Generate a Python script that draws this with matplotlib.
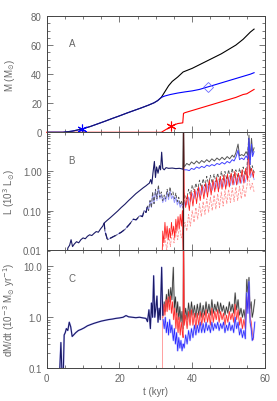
import matplotlib
matplotlib.use('Agg')
import matplotlib.pyplot as plt
from matplotlib.ticker import FixedLocator, FixedFormatter, MultipleLocator, LogLocator, NullFormatter

# ---------------- Panel A: mass ----------------
t_mass_blue = [0, 4.5, 7, 9.6, 12, 14, 16, 18, 20, 22, 24, 26, 28, 29.5, 30.5, 31.5,
               32.5, 34, 36, 38, 40, 42, 44, 46, 48, 50, 52, 54, 56, 57]
m_blue = [0, 0, 0.8, 2.2, 4, 5.8, 7.6, 9.5, 11.3, 13.2, 15, 16.8, 18.7, 20.3, 21.8, 24,
          25, 26, 27, 27.8, 28.5, 29.5, 31, 32.5, 34, 35.5, 37, 38.5, 40, 41]
t_mass_black = [31.5, 32.5, 33.5, 34.5, 36, 37.5, 38, 40, 42, 44, 46, 48, 50, 52, 53,
                54, 55, 56, 57]
m_black = [24, 28, 32, 35, 38, 41.5, 42, 44, 46.5, 49, 51.5, 54, 57, 60, 62, 64, 66.5, 69, 71]
t_mass_red = [0, 31.5, 32.5, 33.5, 34.3, 35, 36, 37.4, 37.6, 38, 40, 42, 44, 46, 48, 50,
              52, 54, 55, 56, 57]
m_red = [0, 0, 1.5, 3, 4.1, 5, 6, 6.5, 13, 13.5, 15, 16.5, 18, 19.5, 21, 22.5, 24, 26,
         26.5, 28, 29.5]

# ---------------- Panel B: luminosity (10^3 Lsun) ----------------
t_L_early = [5.5, 5.8, 6.3, 6.7, 7.1, 7.6, 8.2, 8.8, 9.4, 10.0, 10.6, 11.2, 11.8, 12.4,
             13.0, 13.6, 14.2, 14.8, 15.4, 15.8, 16.5, 17.5, 18.5, 19.5, 20.5, 21.5,
             22.5, 23.5, 24.5, 25.5, 26.5, 27.3, 27.8, 28.2, 28.6, 28.9, 29.2, 29.6,
             29.9, 30.2, 30.6, 31.0, 31.3, 31.6, 31.9, 32.3, 32.8, 33.5, 34.5, 35.5,
             36.5, 37.4]
L_early = [0.005, 0.011, 0.013, 0.018, 0.012, 0.014, 0.016, 0.015, 0.018, 0.02, 0.019,
           0.022, 0.024, 0.023, 0.026, 0.029, 0.028, 0.034, 0.040, 0.048, 0.055, 0.066,
           0.08, 0.097, 0.12, 0.145, 0.18, 0.22, 0.27, 0.32, 0.38, 0.43, 0.47, 0.50,
           0.62, 0.48, 0.9, 1.8, 0.7, 1.3, 0.9, 1.4, 1.1, 3.1, 1.2, 1.1, 1.25, 1.2,
           1.22, 1.18, 1.2, 1.15]
t_L_upper = [37.4, 37.6, 37.8, 38.5, 39.2, 39.8, 40.5, 41.2, 41.9, 42.6, 43.3, 44.0,
             44.7, 45.4, 46.1, 46.8, 47.5, 48.2, 48.9, 49.6, 50.3, 51.0, 51.5, 52.0,
             52.6, 53.0, 53.6, 54.2, 54.8, 55.3, 55.6, 55.9, 56.3, 56.6, 57.0]
L_black_upper = [1.2, 20, 1.3, 1.6, 1.45, 1.75, 1.55, 1.85, 1.6, 1.9, 1.7, 2.0, 1.75,
                 2.1, 1.85, 2.2, 1.95, 2.3, 2.0, 2.4, 2.1, 2.6, 2.3, 3.0, 5.0, 2.5, 2.7,
                 2.5, 3.2, 2.6, 8.5, 2.0, 7.0, 3.0, 4.0]
L_blue_upper = [1.15, 1.1, 1.1, 1.1, 1.05, 1.2, 1.12, 1.3, 1.2, 1.35, 1.25, 1.45, 1.35,
                1.5, 1.4, 1.6, 1.5, 1.7, 1.55, 1.8, 1.65, 2.0, 1.85, 2.3, 3.5, 2.0, 2.2,
                2.0, 2.5, 2.1, 7.0, 1.5, 5.0, 2.4, 3.2]
t_L_lower = [15.8, 16.0, 16.7, 17.2, 18.5, 19.3, 20.5, 21.5, 22.8, 23.8, 24.6, 25.6,
             26.3, 26.8, 27.3, 27.7, 28.0, 28.4, 28.8, 29.1, 29.5, 29.9, 30.3, 30.7,
             31.1, 31.5, 31.9, 32.3, 32.7, 33.1, 33.5, 33.9, 34.3, 34.7, 35.1, 35.5,
             35.9, 36.3, 36.7, 37.1, 37.5, 38.0, 38.5, 39.0, 39.5, 40.0, 40.5, 41.0,
             41.5, 42.0, 42.5, 43.0, 43.5, 44.0, 44.5, 45.0, 45.5, 46.0, 46.5, 47.0,
             47.5, 48.0, 48.5, 49.0, 49.5, 50.0, 50.5, 51.0, 51.5, 52.0, 52.5, 53.0,
             53.5, 54.0, 54.5, 55.0, 55.5, 56.0, 56.5, 57.0]
L_black_lower = [0.048, 0.03, 0.018, 0.019, 0.022, 0.024, 0.028, 0.033, 0.045, 0.06,
                 0.058, 0.075, 0.07, 0.1, 0.09, 0.13, 0.1, 0.18, 0.12, 0.3, 0.15, 0.35,
                 0.2, 0.45, 0.22, 0.3, 0.18, 0.25, 0.2, 0.35, 0.22, 0.4, 0.25, 0.3, 0.2,
                 0.28, 0.17, 0.22, 0.14, 0.18, 0.12, 0.25, 0.2, 0.35, 0.25, 0.45, 0.3,
                 0.5, 0.33, 0.6, 0.38, 0.65, 0.42, 0.75, 0.45, 0.8, 0.5, 0.85, 0.55, 0.9,
                 0.55, 1.0, 0.6, 1.0, 0.62, 1.1, 0.65, 1.2, 0.7, 1.1, 0.7, 1.2, 0.75, 1.3,
                 0.8, 1.1, 7.0, 1.0, 1.4, 0.9]
L_blue_lower = [0.048, 0.03, 0.018, 0.019, 0.022, 0.024, 0.028, 0.033, 0.045, 0.06,
                0.058, 0.075, 0.07, 0.1, 0.09, 0.13, 0.1, 0.18, 0.12, 0.28, 0.15, 0.32,
                0.18, 0.4, 0.2, 0.26, 0.16, 0.22, 0.17, 0.3, 0.19, 0.33, 0.2, 0.24, 0.16,
                0.22, 0.14, 0.18, 0.12, 0.15, 0.11, 0.17, 0.14, 0.22, 0.17, 0.28, 0.2,
                0.32, 0.22, 0.38, 0.25, 0.42, 0.28, 0.48, 0.3, 0.5, 0.33, 0.55, 0.36,
                0.58, 0.37, 0.62, 0.4, 0.65, 0.42, 0.7, 0.44, 0.75, 0.46, 0.72, 0.47,
                0.78, 0.5, 0.82, 0.52, 0.75, 5.0, 0.7, 0.95, 0.62]
t_L_red = [31.7, 31.9, 32.2, 32.5, 32.8, 33.1, 33.4, 33.7, 34.0, 34.3, 34.6, 34.9, 35.2,
           35.5, 35.8, 36.1, 36.4, 36.7, 37.0, 37.3, 37.5, 37.6, 37.8, 38.2, 38.7, 39.2,
           39.7, 40.2, 40.7, 41.2, 41.7, 42.2, 42.7, 43.2, 43.7, 44.2, 44.7, 45.2, 45.7,
           46.2, 46.7, 47.2, 47.7, 48.2, 48.7, 49.2, 49.7, 50.2, 50.7, 51.2, 51.7, 52.2,
           52.7, 53.2, 53.7, 54.2, 54.7, 55.2, 55.5, 55.8, 56.3, 56.8, 57.0]
L_red = [0.005, 0.03, 0.015, 0.05, 0.02, 0.04, 0.018, 0.035, 0.02, 0.05, 0.025, 0.04,
         0.02, 0.06, 0.03, 0.07, 0.035, 0.08, 0.04, 0.1, 0.005, 20, 0.3, 0.12, 0.25, 0.1,
         0.3, 0.13, 0.35, 0.15, 0.4, 0.18, 0.45, 0.2, 0.5, 0.22, 0.6, 0.25, 0.6, 0.3,
         0.7, 0.3, 0.75, 0.35, 0.8, 0.35, 0.85, 0.4, 0.9, 0.45, 1.0, 0.45, 0.9, 0.5, 1.1,
         0.5, 1.2, 0.6, 5.0, 0.8, 1.2, 0.7, 1.0]
t_L_red_lower = [32.0, 32.5, 33.0, 33.5, 34.0, 34.5, 35.0, 35.5, 36.0, 36.5, 37.0, 37.5,
                 38.0, 38.5, 39.0, 39.5, 40.0, 40.5, 41.0, 41.5, 42.0, 42.5, 43.0, 43.5,
                 44.0, 44.5, 45.0, 45.5, 46.0, 46.5, 47.0, 47.5, 48.0, 48.5, 49.0, 49.5,
                 50.0, 50.5, 51.0, 51.5, 52.0, 52.5, 53.0, 53.5, 54.0, 54.5, 55.0, 55.5,
                 56.0, 56.5, 57.0]
L_red_lower = [0.012, 0.02, 0.01, 0.025, 0.012, 0.03, 0.015, 0.035, 0.018, 0.04, 0.02,
               0.03, 0.05, 0.03, 0.08, 0.04, 0.1, 0.05, 0.12, 0.06, 0.15, 0.07, 0.17,
               0.08, 0.2, 0.09, 0.22, 0.1, 0.25, 0.11, 0.27, 0.12, 0.3, 0.13, 0.32, 0.15,
               0.35, 0.16, 0.38, 0.17, 0.4, 0.18, 0.42, 0.2, 0.45, 0.22, 0.4, 0.8, 0.35,
               0.5, 0.3]

# ---------------- Panel C: accretion rate (10^-3 Msun/yr) ----------------
t_dm_early = [3.4, 3.6, 3.9, 4.2, 4.5, 4.8, 5.1, 5.4, 5.8, 6.2, 6.6, 7.0, 7.4, 8.0, 8.7,
              9.5, 10.3, 11.2, 12.1, 13.0, 14.0, 15.0, 16.0, 17.0, 18.0, 19.0, 20.0,
              21.0, 21.8, 22.5, 23.5, 24.5, 25.5, 26.5, 27.3, 27.7, 28.1, 28.5, 28.8,
              29.1, 29.4, 29.7, 30.0, 30.3, 30.6, 30.9, 31.2, 31.6, 31.9]
dm_early = [0.05, 0.1, 0.32, 0.08, 0.05, 0.45, 0.5, 0.6, 0.55, 0.8, 0.65, 0.42, 0.45,
            0.5, 0.55, 0.58, 0.62, 0.68, 0.72, 0.76, 0.8, 0.84, 0.87, 0.9, 0.92, 0.95,
            0.97, 1.0, 1.08, 1.02, 1.0, 0.98, 1.0, 0.97, 0.95, 0.82, 1.4, 0.6, 1.9, 1.0,
            6.5, 1.0, 1.5, 2.6, 0.8, 1.5, 0.9, 9.5, 1.1]
t_dm_late = [32.0, 32.3, 32.6, 32.9, 33.2, 33.5, 33.8, 34.1, 34.4, 34.8, 35.1, 35.4,
             35.7, 36.0, 36.3, 36.6, 36.9, 37.2, 37.5, 37.6, 37.8, 38.2, 38.6, 39.0,
             39.4, 39.8, 40.2, 40.6, 41.0, 41.4, 41.8, 42.2, 42.6, 43.0, 43.4, 43.8,
             44.2, 44.6, 45.0, 45.4, 45.8, 46.2, 46.6, 47.0, 47.4, 47.8, 48.2, 48.6,
             49.0, 49.4, 49.8, 50.2, 50.6, 51.0, 51.4, 51.8, 52.2, 52.6, 53.0, 53.4,
             53.8, 54.2, 54.6, 55.0, 55.3, 55.6, 55.9, 56.2, 56.5, 56.8, 57.2]
dm_black = [1.1, 2.0, 1.3, 2.8, 1.6, 3.5, 2.0, 3.8, 2.2, 9.5, 1.5, 2.5, 1.1, 2.0, 0.9,
            1.6, 0.8, 1.3, 0.6, 50, 0.8, 1.5, 0.9, 1.9, 1.0, 2.0, 1.1, 1.7, 1.0, 1.8,
            1.1, 1.9, 1.0, 1.7, 1.1, 2.0, 1.2, 1.8, 1.1, 2.2, 1.2, 1.8, 1.3, 2.0, 1.2,
            1.9, 1.3, 1.7, 1.1, 1.6, 1.2, 2.0, 1.3, 1.8, 1.2, 3.0, 1.4, 2.2, 1.1, 1.5,
            1.0, 1.4, 0.9, 5.5, 3.0, 6.0, 1.5, 2.0, 1.0, 1.3, 2.2]
dm_blue = [0.9, 0.6, 1.0, 0.5, 0.8, 0.45, 0.9, 0.5, 0.7, 0.35, 0.6, 0.3, 0.5, 0.22,
           0.4, 0.25, 0.35, 0.22, 0.3, 0.28, 0.25, 0.45, 0.3, 0.55, 0.35, 0.6, 0.4, 0.7,
           0.45, 0.7, 0.5, 0.8, 0.5, 0.75, 0.5, 0.8, 0.55, 0.7, 0.5, 0.8, 0.55, 0.75,
           0.6, 0.8, 0.55, 0.75, 0.6, 0.8, 0.5, 0.7, 0.55, 0.8, 0.55, 0.7, 0.5, 1.0,
           0.6, 0.8, 0.45, 0.6, 0.4, 0.55, 0.38, 3.0, 1.2, 5.0, 0.8, 0.6, 0.35, 0.4, 0.8]
t_dm_red = [31.9, 32.2, 32.5, 32.8, 33.1, 33.4, 33.7, 34.0, 34.3, 34.6, 34.9,
            35.2, 35.5, 35.8, 36.1, 36.4, 36.7, 37.0, 37.3, 37.5, 37.6, 37.8, 38.2,
            38.6, 39.0, 39.4, 39.8, 40.2, 40.6, 41.0, 41.4, 41.8, 42.2, 42.6, 43.0,
            43.4, 43.8, 44.2, 44.6, 45.0, 45.4, 45.8, 46.2, 46.6, 47.0, 47.4, 47.8,
            48.2, 48.6, 49.0, 49.4, 49.8, 50.2, 50.6, 51.0, 51.4, 51.8, 52.2, 52.6,
            53.0, 53.4, 53.8, 54.2, 54.6, 55.0, 55.3, 55.6, 55.9, 56.2, 56.5, 56.8]
dm_red = [1.0, 1.8, 1.1, 2.2, 1.3, 2.5, 1.4, 2.6, 1.2, 2.0, 0.9, 1.5, 0.6,
          1.2, 0.5, 1.0, 0.45, 0.8, 0.5, 0.4, 50, 0.7, 1.1, 0.6, 1.3, 0.7, 1.4, 0.7,
          1.2, 0.6, 1.2, 0.7, 1.3, 0.7, 1.2, 0.8, 1.4, 0.8, 1.2, 0.7, 1.5, 0.8, 1.3,
          0.9, 1.4, 0.8, 1.3, 0.9, 1.2, 0.7, 1.1, 0.8, 1.3, 0.9, 1.2, 0.8, 1.8, 0.9,
          1.4, 0.7, 1.0, 0.6, 0.9, 0.6, 2.5, 1.5, 3.6, 1.0, 0.8, 0.5, 0.37]
t_red_onset = [31.7, 31.7]
dm_red_onset = [0.05, 1.0]

TXT = '#666666'
NAVY = '#1a1a66'
plt.rcParams['font.family'] = ['Liberation Sans', 'DejaVu Sans']
plt.rcParams['font.size'] = 7

fig = plt.figure(figsize=(2.77, 4.02), dpi=100)
left, width = 0.1686, 0.788
axA = fig.add_axes([left, 0.6684, width, 0.2893])
axB = fig.add_axes([left, 0.3764, width, 0.2920])
axC = fig.add_axes([left, 0.0813, width, 0.2950])


def style(ax):
    for s in ax.spines.values():
        s.set_color('#444444')
        s.set_linewidth(0.7)
    ax.tick_params(which='both', direction='in', top=True, right=True,
                   colors='#444444', labelcolor=TXT, labelsize=7, width=0.5)
    ax.tick_params(which='major', length=4)
    ax.tick_params(which='minor', length=2)
    ax.set_xlim(0, 60)
    ax.xaxis.set_major_locator(MultipleLocator(20))
    ax.xaxis.set_minor_locator(MultipleLocator(5))


# Panel A
style(axA)
axA.plot(t_mass_red, m_red, color='red', lw=0.8, clip_on=False)
axA.plot(t_mass_black, m_black, color='black', lw=0.8)
axA.plot(t_mass_blue, m_blue, color='blue', lw=0.8)
axA.plot(t_mass_blue[:16], m_blue[:16], color=NAVY, lw=0.8)
axA.plot([t_mass_blue[3]], [m_blue[3]], marker=(6, 2, 0), color='blue', ms=7, mew=0.8)
axA.plot([t_mass_red[4]], [m_red[4]], marker=(6, 2, 0), color='red', ms=7, mew=0.8)
axA.plot([44.4], [31.5], marker='D', mfc='none', mec='#6a6aff', ms=5, mew=0.6)
axA.set_ylim(0, 80)
axA.yaxis.set_major_locator(MultipleLocator(20))
axA.yaxis.set_minor_locator(MultipleLocator(5))
axA.set_xticklabels([])
axA.set_ylabel(r'M (M$_{\odot}$)', color=TXT, fontsize=7)
axA.text(0.1, 0.74, 'A', transform=axA.transAxes, color=TXT, fontsize=7)

# Panel B
style(axB)
axB.set_yscale('log')
axB.plot(t_L_red_lower, L_red_lower, color='#ff7070', lw=0.6, ls=(0, (3, 1.5)), alpha=0.75)
axB.plot(t_L_lower, L_blue_lower, color='#7070ff', lw=0.7, alpha=0.7)
axB.plot(t_L_lower, L_black_lower, color='#555555', lw=0.6, ls=(0, (4, 2)))
axB.plot(t_L_lower[:16], L_black_lower[:16], color=NAVY, lw=0.9, ls=(0, (5, 3)))
axB.plot(t_L_red, L_red, color='#ff2020', lw=0.6)
axB.plot(t_L_upper, L_black_upper, color='#555555', lw=0.7)
axB.plot(t_L_upper, L_blue_upper, color='#4040ff', lw=0.7)
axB.plot(t_L_early, L_early, color=NAVY, lw=0.8)
axB.plot([37.6, 37.6], [0.005, 20], color='#4a1a1a', lw=0.9)
axB.set_ylim(0.01, 10)
axB.yaxis.set_major_locator(FixedLocator([0.01, 0.1, 1.0]))
axB.yaxis.set_major_formatter(FixedFormatter(['0.01', '0.10', '1.00']))
axB.yaxis.set_minor_locator(LogLocator(base=10, subs=range(2, 10)))
axB.yaxis.set_minor_formatter(NullFormatter())
axB.set_xticklabels([])
axB.set_ylabel(r'L (10$^{3}$ L$_{\odot}$)', color=TXT, fontsize=7)
axB.text(0.1, 0.74, 'B', transform=axB.transAxes, color=TXT, fontsize=7)

# Panel C
style(axC)
axC.set_yscale('log')
axC.plot(t_red_onset, dm_red_onset, color='#ff9090', lw=0.6)
axC.plot(t_dm_late, dm_black, color='#999999', lw=1.2, alpha=0.45)
axC.plot(t_dm_late, dm_black, color='#333333', lw=0.55)
axC.plot(t_dm_red, dm_red, color='#ff9090', lw=1.2, alpha=0.45)
axC.plot(t_dm_red, dm_red, color='#ff2a2a', lw=0.55)
axC.plot(t_dm_late, dm_blue, color='#a0a0ff', lw=1.4, alpha=0.5)
axC.plot(t_dm_late, dm_blue, color='#2a2aff', lw=0.55)
axC.plot(t_dm_early, dm_early, color='#7070ff', lw=1.3, alpha=0.4)
axC.plot(t_dm_early, dm_early, color=NAVY, lw=0.8)
axC.set_ylim(0.1, 21)
axC.yaxis.set_major_locator(FixedLocator([0.1, 1.0, 10.0]))
axC.yaxis.set_major_formatter(FixedFormatter(['0.1', '1.0', '10.0']))
axC.yaxis.set_minor_locator(LogLocator(base=10, subs=range(2, 10)))
axC.yaxis.set_minor_formatter(NullFormatter())
axC.set_ylabel(r'dM/dt (10$^{-3}$ M$_{\odot}$ yr$^{-1}$)', color=TXT, fontsize=7)
axC.set_xlabel('t (kyr)', color=TXT, fontsize=7, labelpad=2)
axC.text(0.1, 0.74, 'C', transform=axC.transAxes, color=TXT, fontsize=7)

for ax in (axA, axB, axC):
    ax.yaxis.set_label_coords(-0.135, 0.5)

fig.savefig('out.png', dpi=100)
